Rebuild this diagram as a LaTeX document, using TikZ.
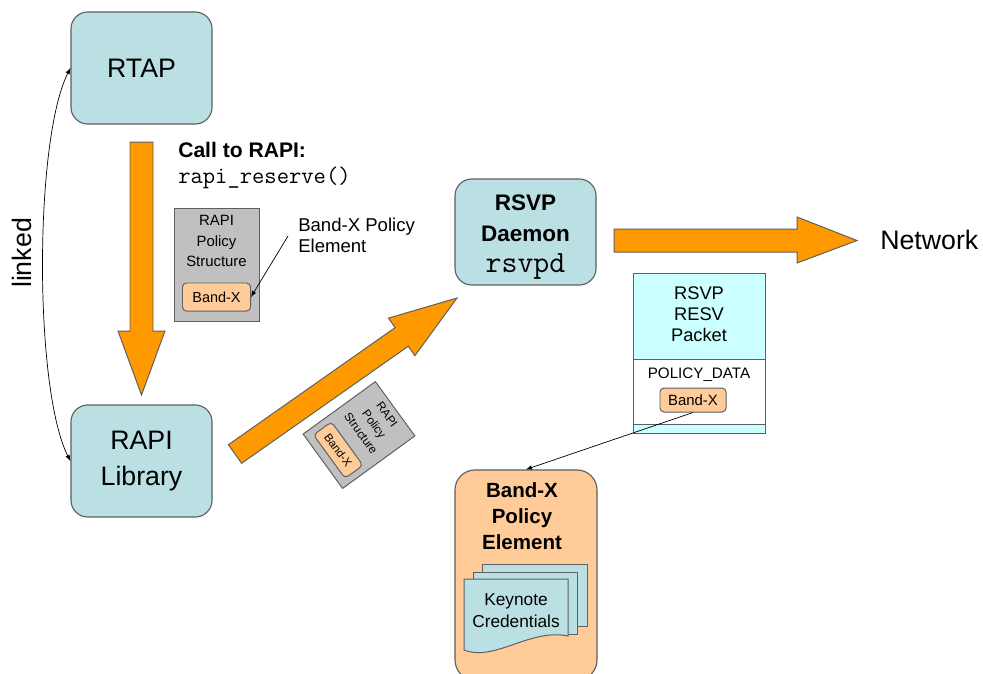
\documentclass[tikz,border=0pt]{standalone}
\usepackage{fontspec}
\setmainfont{Liberation Sans}
\usepackage{tikz}
\usetikzlibrary{arrows}

\definecolor{boxblue}{HTML}{BBE0E3}
\definecolor{bigorange}{HTML}{FF9900}
\definecolor{peach}{HTML}{FFCC99}
\definecolor{structgray}{HTML}{C0C0C0}
\definecolor{pktcyan}{HTML}{CCFFFF}
\definecolor{edgegray}{HTML}{5F5F5F}
\newcommand{\fsz}[2]{\fontsize{#1pt}{#2pt}\selectfont}

\tikzset{
  bluebox/.style={draw=edgegray, fill=boxblue, line width=0.8pt, rounded corners=0.42cm, align=center},
  fatarrow/.style={draw=edgegray, fill=bigorange, line width=0.7pt, line join=miter},
  bandbox/.style={draw=edgegray, fill=peach, rounded corners=0.1cm, line width=0.7pt, inner sep=0pt},
  thinarrow/.style={-latex, line width=0.5pt},
  rapistruct/.pic={
    \node[draw=edgegray, fill=structgray, line width=0.7pt, minimum width=2.125cm, minimum height=2.825cm] (-box) at (0,0) {};
    \node[align=center, font=\fsz{10.6}{14.5}] (-txt) at (0,-23.5) {RAPI\\Policy\\Structure};
    \node[bandbox, minimum width=1.7cm, minimum height=0.7cm, font=\fsz{10.3}{12}] (-bx) at (0,32.5) {Band-X};
  }
}

\begin{document}
\begin{tikzpicture}[x=0.025cm, y=-0.025cm]
\useasboundingbox (0,0) rectangle (983,673);
% application side
\node[bluebox, minimum width=3.525cm, minimum height=2.8cm, font=\fsz{19}{24}] (rtap) at (141.5,68) {RTAP};
\node[bluebox, minimum width=3.525cm, minimum height=2.8cm, font=\fsz{19}{25}] (rapilib) at (141.5,461) {RAPI\\Library};
\draw[latex-latex, line width=0.5pt] (rtap.west) .. controls (34,140) and (34,390) .. (rapilib.west);
\node[rotate=90, font=\fsz{19}{24}] (linked) at (22,253) {linked};
\draw[fatarrow] (130,142) -- (153,142) -- (153,331) -- (165,331) -- (141.5,395) -- (118,331) -- (130,331) -- cycle;
\node[anchor=west, inner sep=0pt, font=\fsz{15}{18}\bfseries] (callto) at (178,150) {Call to RAPI:};
\node[anchor=west, inner sep=0pt, font=\fsz{17}{18}\ttfamily] (callfn) at (178,178) {rapi\_reserve()};
\pic (reqstruct) at (216.5,264.5) {rapistruct};
\node[anchor=west, align=left, inner sep=0pt, font=\fsz{13.2}{15}] (bxlabel) at (298,235.5) {Band-X Policy\\Element};
\coordinate (bxfrom) at (288,236);
\draw[thinarrow] (bxfrom) -- (reqstruct-bx.east);
% towards the daemon
\draw[fatarrow] (228.4,444.7) -- (395.1,327.6) -- (388.5,318.1) -- (457,298) -- (414.9,355.7) -- (408.3,346.2) -- (241.6,463.3) -- cycle;
\pic[rotate=-54, scale=0.79, transform shape] (sentstruct) at (359,435) {rapistruct};
\node[bluebox, minimum width=3.525cm, minimum height=2.65cm] (rsvpd) at (525.5,232) {};
\node[align=center, font=\fsz{16}{22}\bfseries] (rsvpdtxt) at (525.5,237) {RSVP\\Daemon\\{\fsz{22}{22}\mdseries\ttfamily rsvpd}};
% out to the network
\draw[fatarrow] (614,229) -- (797,229) -- (797,217) -- (857,240.5) -- (797,263) -- (797,252) -- (614,252) -- cycle;
\node[anchor=west, inner sep=0pt, font=\fsz{19}{24}] (network) at (880,240) {Network};
% packet
\draw[draw=edgegray, line width=0.7pt, fill=pktcyan] (633,273) rectangle (765,359);
\draw[draw=edgegray, line width=0.7pt, fill=white] (633,359) rectangle (765,424);
\draw[draw=edgegray, line width=0.7pt, fill=pktcyan] (633,424) rectangle (765,433);
\node[align=center, font=\fsz{13}{15}] (pkttxt) at (699,314) {RSVP\\RESV\\Packet};
\node[font=\fsz{10.8}{13}] (pdata) at (699,375) {POLICY\_DATA};
\node[bandbox, minimum width=1.65cm, minimum height=0.6cm, font=\fsz{10.6}{12}] (pktbx) at (693,400) {Band-X};
% policy element
\node[draw=edgegray, fill=peach, line width=0.8pt, rounded corners=0.5cm, minimum width=3.55cm, minimum height=5.25cm] (elem) at (526,575) {};
\node[align=center, font=\fsz{14.6}{18.4}\bfseries] (elemtxt) at (522,516) {Band-X\\Policy\\Element};
\draw[draw=edgegray, line width=0.7pt, fill=boxblue] (482,564) rectangle (587,626);
\draw[draw=edgegray, line width=0.7pt, fill=boxblue] (473,572) rectangle (577,634);
\draw[draw=edgegray, line width=0.7pt, fill=boxblue] (464,579) -- (568,579) -- (568,636) .. controls (530,628) and (495,662) .. (464,650) -- cycle;
\node[align=center, font=\fsz{12.3}{15.6}] (keytxt) at (516,611) {Keynote\\Credentials};
\draw[thinarrow] (pktbx.south) -- (elem.north);
\end{tikzpicture}
\end{document}
